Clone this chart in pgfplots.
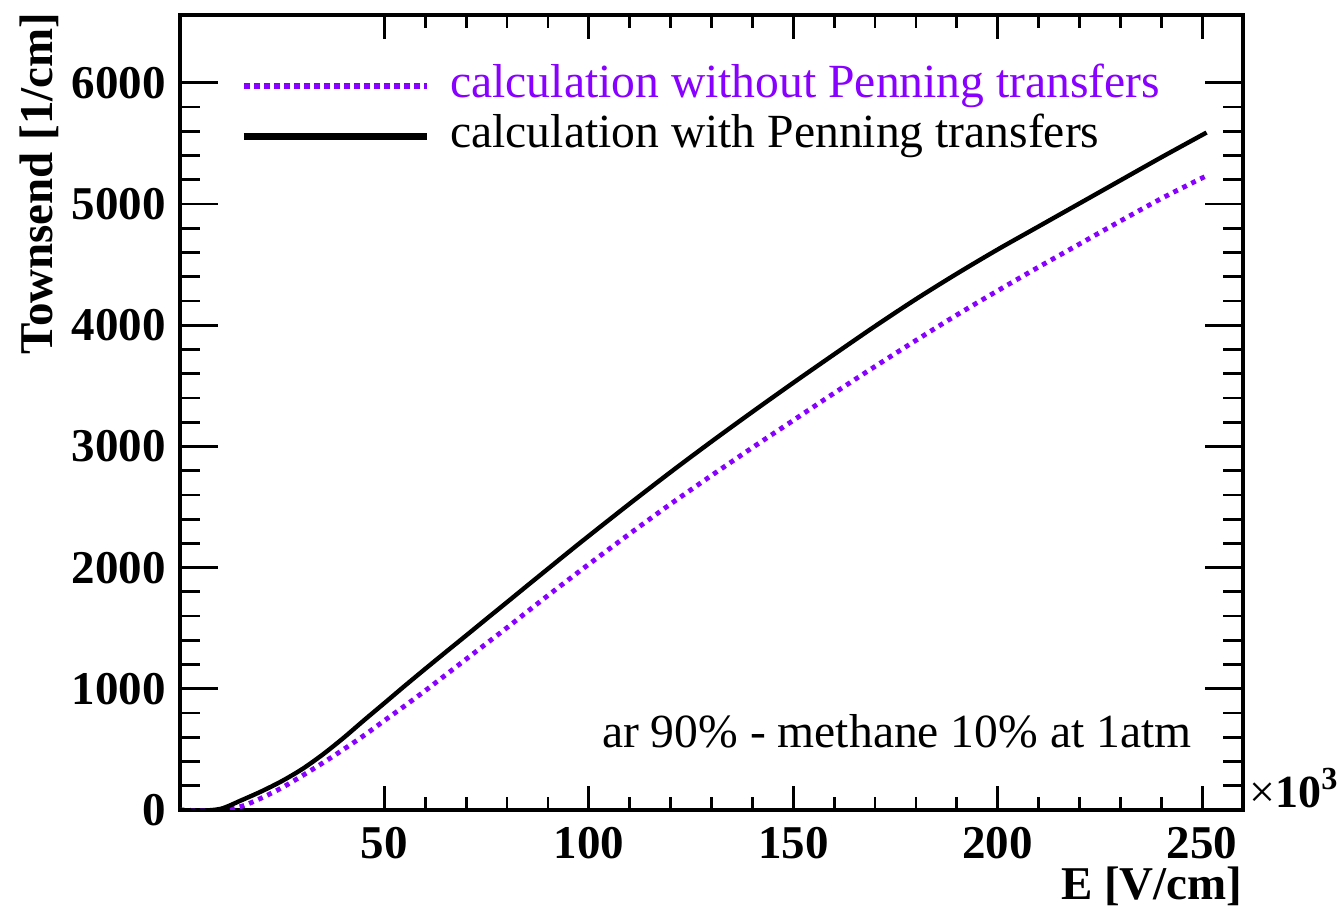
\documentclass[border=0pt]{standalone}
\usepackage{pgfplots}
\usepackage{pgfplotstable}
\pgfplotsset{compat=1.18}
\usepackage{fontspec}
\setmainfont{Liberation Serif}
\newfontfamily\notefont{LiberationSerif}

\definecolor{nopenning}{RGB}{136,0,255}

% Townsend coefficient [1/cm] versus field E [10^3 V/cm]
\pgfplotstableread{
E T
0 0
5 -5
10 10
15 80
20 155
25 240
30 340
35 460
40 595
45 740
50 882
55 1025
60 1165
65 1303
70 1440
75 1578
80 1715
85 1853
90 1990
95 2127
100 2262
110 2528
120 2788
130 3040
140 3285
150 3525
160 3760
170 3992
180 4215
190 4425
200 4625
210 4815
220 5005
230 5195
240 5385
250 5570
251 5588
}\withpenning

\pgfplotstableread{
E T
0 0
5 -5
10 0
15 30
20 100
25 185
30 285
35 390
40 500
45 615
50 738
55 860
60 985
65 1115
70 1245
75 1375
80 1505
85 1638
90 1770
95 1900
100 2028
110 2280
120 2525
130 2760
140 2990
150 3215
160 3440
170 3660
180 3875
190 4085
200 4285
210 4480
220 4670
230 4860
240 5045
250 5215
251 5230
}\withoutpenning

\newcommand{\plaintext}{\notefont\fontsize{23.8}{28}\selectfont}
\newcommand{\boldtext}{\rmfamily\bfseries\fontsize{23.5}{28}\selectfont}

\begin{document}
\begin{tikzpicture}
\begin{axis}[
  scale only axis,
  width=531.5pt, height=397.5pt,
  xmin=0, xmax=260, ymin=0, ymax=6560,
  xtick={50,100,150,200,250},
  ytick={0,1000,2000,3000,4000,5000,6000},
  minor x tick num=4, minor y tick num=4,
  tick align=inside,
  scaled ticks=false,
  /pgf/number format/1000 sep={},
  /pgf/number format/assume math mode=true,
  axis line style={line width=1.8pt},
  tick style={black, line width=1.4pt},
  xtick style={/pgfplots/major tick length=12pt, /pgfplots/minor tick length=6.5pt},
  ytick style={/pgfplots/major tick length=19pt, /pgfplots/minor tick length=10pt},
  ticklabel style={font=\boldtext},
  xticklabel style={inner sep=0pt, yshift=-8.5pt},
  yticklabel style={inner sep=0pt, xshift=-7pt},
  xlabel={E [V/cm]},
  ylabel={Townsend [1/cm]},
  every axis x label/.style={at={(rel axis cs:1,0)}, anchor=base east,
    yshift=-45pt, inner sep=0pt, font=\boldtext},
  every axis y label/.style={at={(rel axis cs:0,1)}, xshift=-63.5pt, yshift=1.5pt,
    rotate=90, anchor=base east, inner sep=0pt, font=\boldtext},
  legend style={draw=none, fill=none,
    at={(axis description cs:0.0564,0.9401)}, anchor=north west,
    inner sep=0pt, row sep=1.6pt, column sep=10pt,
    nodes={inner sep=0pt, text height=17pt, text depth=6.4pt, font=\plaintext}},
  legend cell align=left,
  legend image code/.code={\draw[#1] (0pt,0pt) -- (91.5pt,0pt);},
]
\addplot[nopenning, line width=2.4pt, dash pattern=on 2.4pt off 2.6pt, smooth, forget plot]
  table[x=E, y=T] {\withoutpenning};
\addplot[black, line width=2.2pt, smooth, forget plot]
  table[x=E, y=T] {\withpenning};

\addlegendimage{nopenning, line width=3pt, dash pattern=on 3pt off 2pt}
\addlegendentry{\textcolor{nopenning}{calculation without Penning transfers}}
\addlegendimage{black, line width=3.5pt}
\addlegendentry{calculation with Penning transfers}

\coordinate (sw) at (rel axis cs:0,0);
\coordinate (se) at (rel axis cs:1,0);
\coordinate (note) at (axis description cs:0.952,0.078);
\end{axis}
\node[anchor=base east, inner sep=0pt, font=\plaintext]
  at (note) {ar 90\% - methane 10\% at 1atm};
% exponent of the x scale, right of the axis corner
\node[anchor=base west, inner sep=0pt, font=\notefont\fontsize{23}{27}\selectfont]
  at ([shift={(3pt,1pt)}]se) {×\textbf{10}\textsuperscript{\textbf{3}}};
\pgfresetboundingbox
\path ([shift={(-90pt,-49.5pt)}]sw) rectangle ([shift={(579.5pt,405pt)}]sw);
\end{tikzpicture}
\end{document}
